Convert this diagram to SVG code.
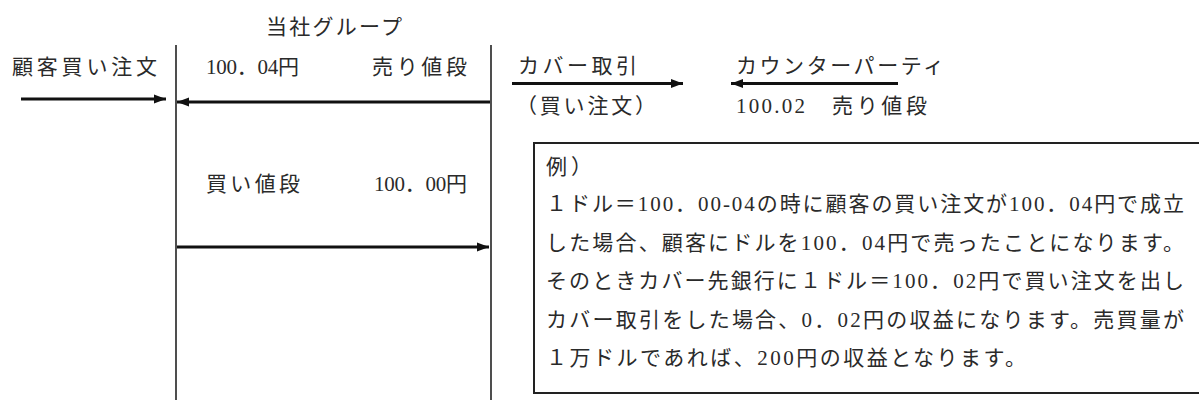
<svg xmlns="http://www.w3.org/2000/svg" width="1199" height="400" viewBox="0 0 1199 400">
<style>
  text { font-family: "Liberation Serif", "Noto Sans CJK JP", serif; font-size: 21px; fill: #2a2a2a; }
  .lane { stroke: #222; stroke-width: 1.6; fill: none; }
  .arrow { stroke: #111; stroke-width: 3; fill: none; }
  .box { stroke: #222; stroke-width: 2; fill: #fff; }
</style>
<defs>
  <marker id="ah" markerUnits="userSpaceOnUse" markerWidth="13" markerHeight="11" refX="12" refY="5.5" orient="auto">
    <path d="M0,1 L12,5.5 L0,10 Z" fill="#111"/>
  </marker>
</defs>
<rect width="1199" height="400" fill="#fff"/>

<g id="group-header">
  <text x="266" y="34" textLength="136" lengthAdjust="spacing">当社グループ</text>
</g>

<g id="lanes">
  <line class="lane" x1="176" y1="45" x2="176" y2="400"/>
  <line class="lane" x1="491" y1="45" x2="491" y2="400"/>
</g>

<g id="customer">
  <text x="12" y="74" textLength="145" lengthAdjust="spacing">顧客買い注文</text>
</g>

<g id="group-prices">
  <text x="206" y="74" textLength="93" lengthAdjust="spacing">100．04円</text>
  <text x="372" y="74" textLength="95" lengthAdjust="spacing">売り値段</text>
  <text x="206" y="191" textLength="94" lengthAdjust="spacing">買い値段</text>
  <text x="374" y="191" textLength="93" lengthAdjust="spacing">100．00円</text>
</g>

<g id="cover">
  <text x="518" y="73" textLength="119" lengthAdjust="spacing">カバー取引</text>
  <text x="516" y="113" textLength="140" lengthAdjust="spacing">（買い注文）</text>
</g>

<g id="counterparty">
  <text x="736" y="73" textLength="208" lengthAdjust="spacing">カウンターパーティ</text>
  <text x="736" y="113" textLength="69" lengthAdjust="spacing">100.02</text>
  <text x="832" y="113" textLength="95" lengthAdjust="spacing">売り値段</text>
</g>

<g id="connectors">
  <line class="arrow" x1="21" y1="99" x2="166" y2="99" marker-end="url(#ah)"/>
  <line class="arrow" x1="490" y1="102" x2="177" y2="102" marker-end="url(#ah)"/>
  <line class="arrow" x1="177" y1="247" x2="489" y2="247" marker-end="url(#ah)"/>
  <line class="arrow" x1="512" y1="83.5" x2="683" y2="83.5" marker-end="url(#ah)"/>
  <line class="arrow" x1="898" y1="83.5" x2="731" y2="83.5" marker-end="url(#ah)"/>
</g>

<g id="example">
  <rect class="box" x="534" y="143" width="700" height="250"/>
  <text x="546" y="174" textLength="46" lengthAdjust="spacing">例）</text>
  <text x="546" y="211" textLength="638" lengthAdjust="spacing">１ドル＝100．00-04の時に顧客の買い注文が100．04円で成立</text>
  <text x="546" y="249.5" textLength="638" lengthAdjust="spacing">した場合、顧客にドルを100．04円で売ったことになります。</text>
  <text x="546" y="288" textLength="638" lengthAdjust="spacing">そのときカバー先銀行に１ドル＝100．02円で買い注文を出し</text>
  <text x="546" y="326.5" textLength="638" lengthAdjust="spacing">カバー取引をした場合、0．02円の収益になります。売買量が</text>
  <text x="546" y="365" textLength="480" lengthAdjust="spacing">１万ドルであれば、200円の収益となります。</text>
</g>
</svg>
